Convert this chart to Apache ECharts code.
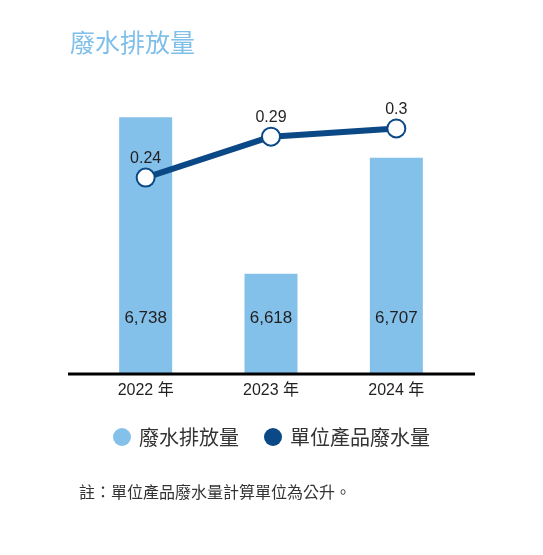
<!DOCTYPE html>
<html>
<head>
<meta charset="UTF-8">
<script type="text/javascript" src="https://cdn.jsdelivr.net/npm/echarts@6/dist/echarts.min.js"></script>
<title>廢水排放量</title>
<style>
  html, body { margin: 0; padding: 0; background: #fff; }
</style>
</head>
<body>
	<div id="main" style="width:543px;height:555px;"></div>
	<script type="text/javascript">
		var years = ['2022 年', '2023 年', '2024 年'];
		var wasteWater = [6738, 6618, 6707];
		var perProduct = [0.24, 0.29, 0.3];
		var seriesNames = ['廢水排放量', '單位產品廢水量'];

		var fontFam = "'Liberation Sans', 'Noto Sans CJK TC', sans-serif";
		var cjkFam = "'Noto Sans CJK TC', sans-serif";
		var myChart = echarts.init(document.getElementById('main'));

		var option = {
			backgroundColor: '#ffffff',
			title: [{
				text: '廢水排放量',
				left: 65,
				top: 25,
				textStyle: { color: '#7fbfe9', fontSize: 25, fontWeight: 'normal', fontFamily: cjkFam }
			}, {
				text: '註：單位產品廢水量計算單位為公升。',
				left: 74,
				top: 479,
				textStyle: { color: '#333333', fontSize: 16, fontWeight: 'normal', fontFamily: cjkFam }
			}],
			legend: {
				data: [
					{ name: seriesNames[0], itemStyle: { color: '#83c1ea' } },
					{ name: seriesNames[1], itemStyle: { color: '#0b4886', borderWidth: 0 } }
				],
				left: 'center',
				top: 422,
				icon: 'circle',
				itemWidth: 18,
				itemHeight: 18,
				itemGap: 25,
				textStyle: { color: '#333333', fontSize: 20, fontFamily: cjkFam, padding: [0, 0, 0, 3] }
			},
			grid: { left: 83, right: 84, top: 90, bottom: 181 },
			xAxis: {
				type: 'category',
				data: years,
				axisLine: { show: false },
				axisTick: { show: false },
				axisLabel: { color: '#231f20', fontSize: 16, margin: 9, fontFamily: fontFam }
			},
			yAxis: [{
				type: 'value',
				min: 6541,
				max: 6759,
				show: false
			}, {
				type: 'value',
				min: 0,
				max: 0.347,
				show: false
			}],
			graphic: [{
				type: 'line',
				shape: { x1: 68, y1: 374, x2: 475, y2: 374 },
				style: { stroke: '#000000', lineWidth: 3 },
				z: 10
			}],
			series: [{
				name: seriesNames[0],
				type: 'bar',
				data: wasteWater,
				barWidth: 53,
				itemStyle: { color: '#83c1ea' },
				label: {
					show: true,
					position: 'insideBottom',
					distance: 47,
					color: '#231f20',
					fontSize: 17,
					fontFamily: fontFam,
					formatter: function (p) { return p.value.toLocaleString('en-US'); }
				}
			}, {
				name: seriesNames[1],
				type: 'line',
				yAxisIndex: 1,
				data: perProduct,
				symbol: 'circle',
				symbolSize: 18,
				lineStyle: { color: '#0b4886', width: 6 },
				itemStyle: { color: '#ffffff', borderColor: '#0b4886', borderWidth: 2 },
				label: {
					show: true,
					position: 'top',
					distance: 1,
					color: '#231f20',
					fontSize: 16,
					fontFamily: fontFam
				},
				z: 5
			}]
		};
		myChart.setOption(option);
	</script>
</body>
</html>
